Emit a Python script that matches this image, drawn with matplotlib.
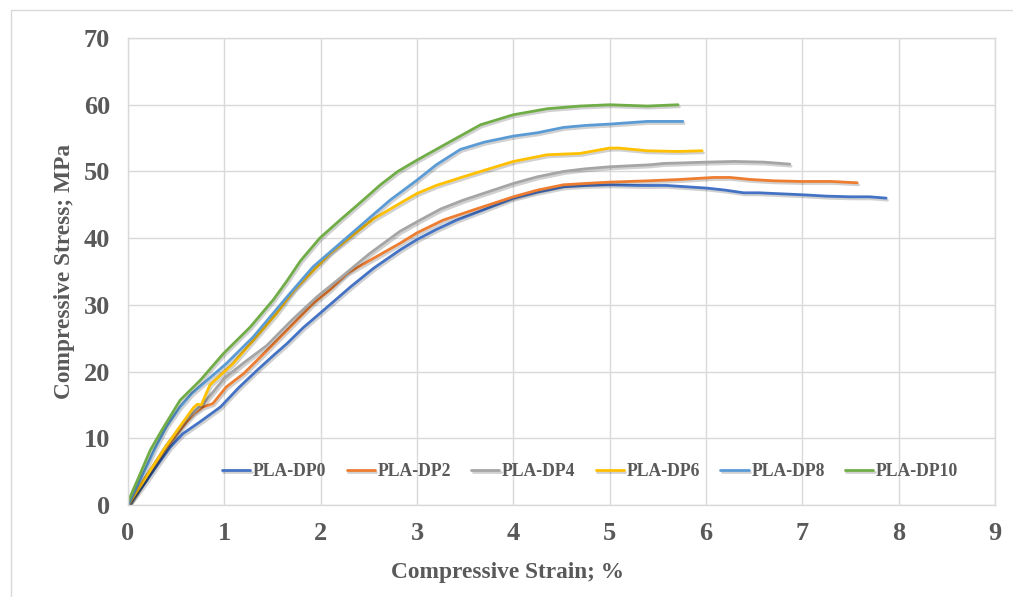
#!/usr/bin/env python3

import matplotlib
matplotlib.use("Agg")
import matplotlib.pyplot as plt
import matplotlib.patheffects as pe
from matplotlib.patches import Rectangle

# strain (%) / stress (MPa)
dp0_x = [0, 0.1, 0.2, 0.3, 0.44, 0.57, 0.75, 0.96, 1.15, 1.34, 1.5, 1.65, 1.82, 1.99, 2.15, 2.31,
         2.55, 2.82, 3.0, 3.2, 3.41, 3.7, 4.0, 4.25, 4.52, 4.75, 5.0, 5.3, 5.59, 5.8, 6.01, 6.2,
         6.39, 6.55, 6.7, 7.01, 7.25, 7.5, 7.7, 7.87]
dp0_y = [0, 1.8, 3.8, 5.9, 8.7, 10.7, 12.5, 14.7, 17.6, 20.2, 22.3, 24.2, 26.6, 28.7, 30.7, 32.7,
         35.5, 38.2, 39.8, 41.3, 42.7, 44.3, 46.0, 46.9, 47.7, 47.9, 48.0, 47.9, 47.9, 47.7, 47.5, 47.2,
         46.8, 46.8, 46.7, 46.5, 46.3, 46.2, 46.2, 46.0]

dp2_x = [0, 0.2, 0.4, 0.55, 0.68, 0.78, 0.88, 1.02, 1.2, 1.41, 1.65, 1.92, 2.1, 2.27, 2.55, 2.82,
         3.0, 3.27, 3.6, 4.0, 4.25, 4.52, 4.75, 5.0, 5.4, 5.73, 6.08, 6.25, 6.46, 6.7, 6.98, 7.3, 7.57]
dp2_y = [0, 4.5, 8.7, 11.5, 13.7, 14.7, 15.2, 17.7, 19.7, 22.7, 26.2, 30.2, 32.3, 34.7, 37.0, 39.2,
         40.8, 42.7, 44.3, 46.2, 47.2, 48.0, 48.2, 48.4, 48.6, 48.8, 49.1, 49.1, 48.8, 48.6, 48.5, 48.5, 48.3]

dp4_x = [0, 0.2, 0.4, 0.6, 0.8, 1.0, 1.2, 1.44, 1.7, 1.96, 2.2, 2.5, 2.82, 3.03, 3.25, 3.48,
         3.75, 4.0, 4.25, 4.52, 4.75, 5.0, 5.42, 5.56, 6.01, 6.29, 6.6, 6.87]
dp4_y = [0, 4.6, 9.0, 12.8, 15.5, 19.0, 21.3, 23.9, 27.7, 31.2, 34.0, 37.6, 41.0, 42.7, 44.4, 45.7,
         47.0, 48.2, 49.2, 50.0, 50.4, 50.7, 51.0, 51.2, 51.4, 51.5, 51.4, 51.1]

dp6_x = [0, 0.2, 0.38, 0.55, 0.68, 0.72, 0.76, 0.85, 1.09, 1.30, 1.54, 1.72, 1.96, 2.1, 2.31, 2.55,
         2.82, 3.0, 3.2, 3.48, 3.75, 4.0, 4.35, 4.69, 5.0, 5.1, 5.39, 5.7, 5.96]
dp6_y = [0, 4.5, 8.5, 12.0, 14.6, 15.1, 15.0, 18.0, 21.2, 24.7, 28.7, 32.2, 35.7, 37.8, 40.2, 42.9,
         45.2, 46.7, 47.9, 49.2, 50.4, 51.5, 52.5, 52.7, 53.5, 53.5, 53.1, 53.0, 53.1]

dp8_x = [0, 0.15, 0.28, 0.4, 0.54, 0.66, 0.78, 1.02, 1.30, 1.65, 1.92, 2.2, 2.48, 2.72, 3.0, 3.2,
         3.45, 3.7, 4.0, 4.25, 4.52, 4.75, 5.0, 5.39, 5.76]
dp8_y = [0, 4.5, 8.5, 11.8, 14.7, 16.7, 18.2, 21.2, 25.2, 31.2, 35.7, 39.2, 42.7, 45.7, 48.7, 51.0,
         53.3, 54.4, 55.3, 55.8, 56.6, 56.9, 57.1, 57.5, 57.5]

dp10_x = [0, 0.1, 0.23, 0.35, 0.54, 0.75, 0.99, 1.27, 1.51, 1.65, 1.79, 1.99, 2.2, 2.44, 2.62, 2.8,
          3.0, 3.31, 3.66, 4.0, 4.35, 4.69, 5.0, 5.39, 5.71]
dp10_y = [0.5, 3.8, 8.2, 11.2, 15.7, 18.7, 22.7, 26.7, 30.8, 33.6, 36.6, 40.0, 42.7, 45.7, 48.0, 50.0,
          51.7, 54.2, 57.0, 58.5, 59.4, 59.8, 60.0, 59.8, 60.0]

labels = ["PLA-DP0", "PLA-DP2", "PLA-DP4", "PLA-DP6", "PLA-DP8", "PLA-DP10"]
colors = ["#4472C4", "#ED7D31", "#A5A5A5", "#FFC000", "#5B9BD5", "#70AD47"]
series = [(dp0_x, dp0_y), (dp2_x, dp2_y), (dp4_x, dp4_y),
          (dp6_x, dp6_y), (dp8_x, dp8_y), (dp10_x, dp10_y)]

plt.rcParams['font.family'] = ['Liberation Serif', 'DejaVu Serif']
plt.rcParams['font.weight'] = 'bold'
text_col = "#595959"
grid_col = "#D9D9D9"

fig = plt.figure(figsize=(10.13, 5.97), dpi=100)
ax = fig.add_axes([0.1264, 0.1541, 0.8558, 0.7822])

# outer chart border (cropped on right/bottom)
fig.add_artist(Rectangle((11 / 1013, -0.1), 1.2, 1 - 10 / 597 + 0.1, transform=fig.transFigure,
                         fill=False, edgecolor=grid_col, lw=1.0))

shadow = [pe.SimpleLineShadow(offset=(1.0, -1.5), shadow_color="black", alpha=0.18), pe.Normal()]
for (x, y), lab, c in zip(series, labels, colors):
    ax.plot(x, y, color=c, lw=2.0, label=lab, path_effects=shadow, solid_capstyle='round')

ax.set_xlim(0, 9)
ax.set_ylim(0, 70)
ax.set_xticks(range(0, 10))
ax.set_yticks(range(0, 71, 10))
ax.grid(True, color=grid_col, lw=1.0)
ax.set_axisbelow(True)
for s in ax.spines.values():
    s.set_color(grid_col)
    s.set_linewidth(1.0)
ax.tick_params(length=0, labelsize=19, colors=text_col)
ax.tick_params(axis='x', pad=12)
ax.tick_params(axis='y', pad=13)
for t in ax.get_xticklabels() + ax.get_yticklabels():
    t.set_fontweight('bold')

ax.set_xlabel("Compressive Strain; %", fontsize=16.8, color=text_col, fontweight='bold')
ax.xaxis.set_label_coords(0.438, -0.122)
ax.set_ylabel("Compressive Stress; MPa", fontsize=16.8, color=text_col, fontweight='bold', labelpad=6)

leg = ax.legend(loc='center', bbox_to_anchor=(0.533, 0.071), ncol=6, frameon=False,
                handlelength=1.6, handletextpad=0.15, columnspacing=1.15,
                prop={'weight': 'bold', 'size': 12.7})
for t in leg.get_texts():
    t.set_color(text_col)

fig.savefig("out.png", dpi=100)
